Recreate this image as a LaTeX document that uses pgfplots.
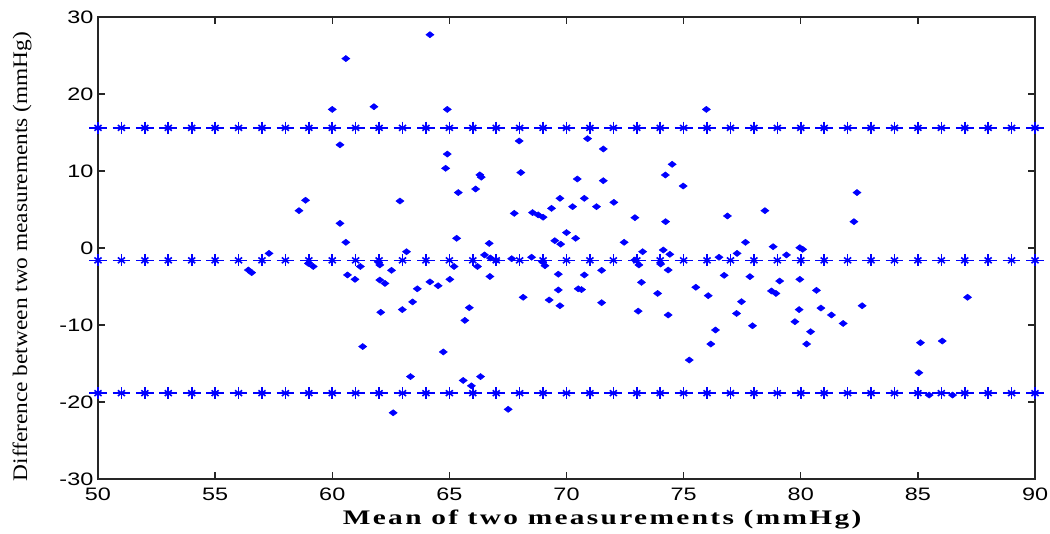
\documentclass[border=0pt]{standalone}
\usepackage{pgfplots}
\usepackage{pgfplotstable}
\pgfplotsset{compat=1.18}
\usepackage{fontspec}
\setmainfont{Liberation Serif}
\newfontfamily\arial{Liberation Sans}
\definecolor{mblue}{RGB}{0,0,255}

\pgfplotstableread{
x y
60.58 24.6
60.0 18.0
60.33 13.4
58.86 6.2
58.58 4.85
60.33 3.2
60.58 0.74
57.30 -0.7
56.42 -2.86
56.56 -3.2
58.98 -2.0
59.19 -2.4
61.2 -2.4
60.65 -3.5
60.97 -4.07
61.3 -12.8
64.17 27.7
61.78 18.35
64.91 18.0
64.91 12.2
64.84 10.35
66.30 9.5
66.36 9.2
66.12 7.66
65.38 7.2
62.89 6.1
65.31 1.26
66.70 0.6
63.17 -0.48
66.5 -0.9
66.75 -1.3
67.0 -1.6
61.96 -1.8
62.03 -2.2
65.2 -2.4
66.2 -2.4
62.53 -2.9
62.03 -4.16
62.25 -4.6
65.02 -4.07
66.73 -3.7
64.17 -4.4
64.52 -4.9
63.63 -5.3
63.43 -7.0
62.99 -8.0
62.07 -8.35
65.85 -7.75
65.66 -9.4
64.74 -13.5
63.34 -16.7
65.59 -17.2
65.94 -17.9
66.33 -16.7
62.6 -21.4
67.98 13.9
70.9 14.2
71.57 12.86
68.05 9.8
70.46 8.96
71.57 8.74
69.72 6.45
70.76 6.45
72.02 5.93
69.36 5.15
70.26 5.37
71.28 5.37
67.77 4.5
68.55 4.6
68.79 4.3
69.0 4.0
70.0 2.0
70.39 1.26
69.5 0.95
69.75 0.5
72.46 0.74
67.66 -1.39
68.51 -1.2
68.97 -1.78
69.08 -2.3
69.65 -3.4
70.76 -3.5
71.5 -2.9
69.65 -5.45
70.5 -5.3
70.64 -5.4
68.15 -6.4
69.26 -6.75
69.72 -7.5
71.5 -7.1
67.51 -20.95
75.97 18.0
74.51 10.87
74.22 9.48
74.98 8.05
72.92 3.94
74.23 3.42
76.87 4.16
73.25 -0.48
74.13 -0.26
74.41 -0.82
77.28 -0.7
76.51 -1.2
77.64 0.74
72.92 -1.56
73.09 -2.2
74.02 -2.08
74.34 -2.86
76.73 -3.55
77.83 -3.72
73.2 -4.46
75.52 -5.1
73.89 -5.9
76.05 -6.19
77.47 -6.97
73.06 -8.2
74.34 -8.7
77.26 -8.5
77.94 -10.1
76.36 -10.65
76.16 -12.47
75.24 -14.55
82.4 7.2
78.47 4.85
82.27 3.42
78.82 0.17
79.96 0.04
80.08 -0.17
79.39 -0.9
79.1 -4.29
79.96 -4.07
78.75 -5.58
78.94 -5.9
80.67 -5.5
79.93 -8.0
80.86 -7.8
81.31 -8.7
81.81 -9.8
82.62 -7.5
79.75 -9.57
80.42 -10.87
80.25 -12.47
87.12 -6.4
85.11 -12.3
86.04 -12.08
85.04 -16.2
85.48 -19.1
86.48 -19.1
}\diffdata

\pgfplotstableread{
x up mid lo
50 15.6 -1.6 -18.85
51 15.6 -1.6 -18.85
52 15.6 -1.6 -18.85
53 15.6 -1.6 -18.85
54 15.6 -1.6 -18.85
55 15.6 -1.6 -18.85
56 15.6 -1.6 -18.85
57 15.6 -1.6 -18.85
58 15.6 -1.6 -18.85
59 15.6 -1.6 -18.85
60 15.6 -1.6 -18.85
61 15.6 -1.6 -18.85
62 15.6 -1.6 -18.85
63 15.6 -1.6 -18.85
64 15.6 -1.6 -18.85
65 15.6 -1.6 -18.85
66 15.6 -1.6 -18.85
67 15.6 -1.6 -18.85
68 15.6 -1.6 -18.85
69 15.6 -1.6 -18.85
70 15.6 -1.6 -18.85
71 15.6 -1.6 -18.85
72 15.6 -1.6 -18.85
73 15.6 -1.6 -18.85
74 15.6 -1.6 -18.85
75 15.6 -1.6 -18.85
76 15.6 -1.6 -18.85
77 15.6 -1.6 -18.85
78 15.6 -1.6 -18.85
79 15.6 -1.6 -18.85
80 15.6 -1.6 -18.85
81 15.6 -1.6 -18.85
82 15.6 -1.6 -18.85
83 15.6 -1.6 -18.85
84 15.6 -1.6 -18.85
85 15.6 -1.6 -18.85
86 15.6 -1.6 -18.85
87 15.6 -1.6 -18.85
88 15.6 -1.6 -18.85
89 15.6 -1.6 -18.85
90 15.6 -1.6 -18.85
}\limitsdata

\begin{document}
\begin{tikzpicture}
\begin{axis}[
  scale only axis, width=702.75pt, height=346.5pt,
  xmin=50, xmax=90, ymin=-30, ymax=30,
  xtick={50,55,...,90}, ytick={-30,-20,...,30},
  tick align=inside, major tick length=5pt,
  axis line style={line width=1.1pt, black!85},
  tick style={line width=1.1pt, black!85},
  /pgf/number format/assume math mode=true,
  ticklabel style={font=\arial\fontsize{13.5}{14}\selectfont},
  xticklabel style={yshift=-3pt},
  xticklabel={\scalebox{1.3}[1]{\pgfmathprintnumber{\tick}}},
  yticklabel={\scalebox{1.3}[1]{\pgfmathprintnumber{\tick}}},
  xlabel={\scalebox{1.42}[1]{\addfontfeature{LetterSpace=8}\bfseries Mean of two measurements (mmHg)}},
  ylabel={\scalebox{1.13}[1]{Difference between two measurements (mmHg)}},
  label style={font=\fontsize{15.5}{16}\selectfont},
  xlabel style={at={(axis description cs:0.538,-0.0887)}, anchor=center},
  ylabel style={at={(axis description cs:-0.0811,0.4816)}, anchor=center},
  clip=false,
]
\foreach \c in {up,mid,lo}{
  \addplot[only marks, mark=+, mark size=4.6pt, line width=1.2pt, color=mblue, mark options={xscale=1.45}] table[x=x, y=\c] {\limitsdata};
  \addplot[only marks, mark=x, mark size=3pt, line width=1.2pt, color=mblue, mark options={xscale=1.25}] table[x=x, y=\c] {\limitsdata};
}
\addplot[only marks, mark=diamond*, mark size=2.3pt, color=mblue, mark options={xscale=1.75, fill=mblue, draw=mblue}] table[x=x, y=y] {\diffdata};
\end{axis}
\pgfresetboundingbox
\path[use as bounding box] ([shift={(-73.5pt,-40.5pt)}]current axis.south west) rectangle ([shift={(11.25pt,12.75pt)}]current axis.north east);
\end{tikzpicture}
\end{document}
